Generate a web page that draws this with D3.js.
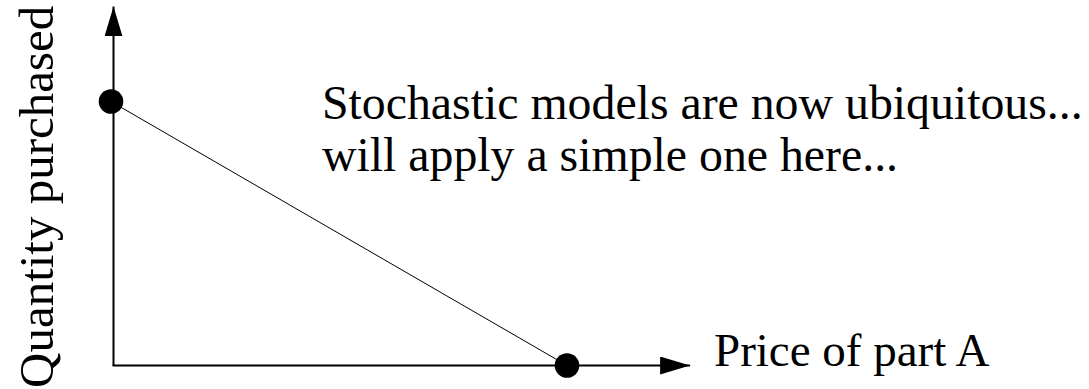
<!DOCTYPE html>
<html>
<head>
<meta charset="utf-8">
<script src="https://cdn.jsdelivr.net/npm/d3@7"></script>
<style>
    body { margin: 0; background: #ffffff; }
</style>
</head>
<body>
<div id="chart"></div>
<script>
// data: two end points of the demand line
var price = [0, 1];
var quantity = [1, 0];
var xLabel = "Price of part A";
var yLabel = "Quantity purchased";
var noteLines = ["Stochastic models are now ubiquitous...", "will apply a simple one here..."];

var width = 1089, height = 389;

var svg = d3.select("#chart").append("svg")
    .attr("width", width)
    .attr("height", height);

// scaling
var xScale = d3.scaleLinear().domain([0, 1]).range([111, 567]);
var yScale = d3.scaleLinear().domain([0, 1]).range([365.5, 101.5]);

// axis arrow heads
svg.append("defs").append("marker")
    .attr("id", "arrow")
    .attr("viewBox", "0 0 30 18")
    .attr("refX", 30).attr("refY", 9)
    .attr("markerWidth", 30).attr("markerHeight", 18)
    .attr("markerUnits", "userSpaceOnUse")
    .attr("orient", "auto")
    .append("path")
    .attr("d", "M0,0 L30,9 L0,18 Z")
    .attr("fill", "#000");

var axisX0 = xScale(0) + 2.5;

// y axis
svg.append("line")
    .attr("x1", axisX0).attr("y1", yScale(0))
    .attr("x2", axisX0).attr("y2", yScale(1.36))
    .attr("stroke", "#000").attr("stroke-width", 2)
    .attr("marker-end", "url(#arrow)");

// x axis
svg.append("line")
    .attr("x1", axisX0 - 1).attr("y1", yScale(0))
    .attr("x2", xScale(1.27)).attr("y2", yScale(0))
    .attr("stroke", "#000").attr("stroke-width", 2)
    .attr("marker-end", "url(#arrow)");

var dataset = price.map(function(p, i) { return { price: p, quantity: quantity[i] }; });

// make line
var line = d3.line()
    .x(function(d) { return xScale(d.price); })
    .y(function(d) { return yScale(d.quantity); });

svg.append("path")
    .datum(dataset)
    .attr("d", line)
    .attr("fill", "none")
    .attr("stroke", "#000")
    .attr("stroke-width", 1);

// end points
svg.selectAll(".dot")
    .data(dataset).enter().append("circle")
    .attr("class", "dot")
    .attr("cx", function(d) { return xScale(d.price); })
    .attr("cy", function(d) { return yScale(d.quantity); })
    .attr("r", 12.3)
    .attr("fill", "#000");

// axis labels
svg.append("text")
    .attr("x", 714).attr("y", 365.5)
    .style("font-family", "'Liberation Serif'")
    .style("font-size", "47px")
    .text(xLabel);

svg.append("text")
    .attr("transform", "translate(" + [53, 388] + ") rotate(-90)")
    .style("font-family", "'Liberation Serif'")
    .style("font-size", "49px")
    .text(yLabel);

// annotation
svg.selectAll(".note")
    .data(noteLines).enter().append("text")
    .attr("class", "note")
    .attr("x", 322)
    .attr("y", function(d, i) { return 119 + i * 52; })
    .style("font-family", "'Liberation Serif'")
    .style("font-size", "47.8px")
    .text(function(d) { return d; });
</script>
</body>
</html>
